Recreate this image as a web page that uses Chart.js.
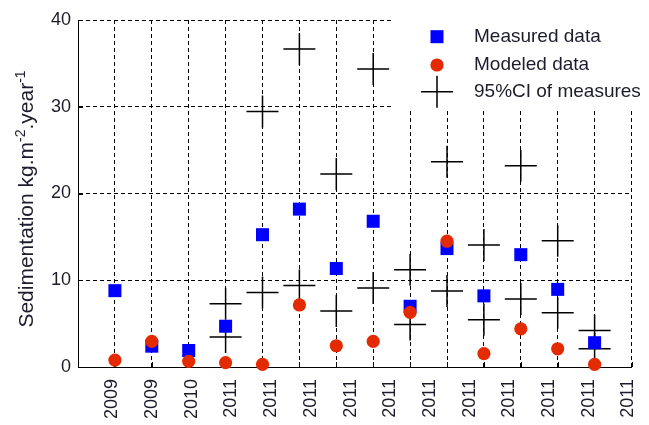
<!DOCTYPE html>
<html>
<head>
<meta charset="utf-8">
<script src="https://cdn.jsdelivr.net/npm/chart.js@4.4.1/dist/chart.umd.min.js"></script>
<style>
html,body{margin:0;padding:0;background:#ffffff;}
#wrap{width:649px;height:425px;position:relative;}
</style>
</head>
<body>
<div id="wrap"><canvas id="c" width="649" height="425"></canvas></div>
<script>
// ---- data ----
const yearLabels = ['2009','2009','2010','2011','2011','2011','2011','2011','2011','2011','2011','2011','2011','2011'];
const sampleIndex = [1,2,3,4,5,6,7,8,9,10,11,12,13,14];
const measured = [8.8, 2.4, 1.9, 4.7, 15.25, 18.2, 11.35, 16.8, 7.0, 13.65, 8.2, 12.95, 8.95, 2.8];
const modeled  = [0.8, 2.95, 0.65, 0.5, 0.3, 7.15, 2.45, 2.95, 6.3, 14.5, 1.55, 4.4, 2.1, 0.3];
const ciLower  = [null, null, null, 3.45, 8.6, 9.4, 6.45, 9.1, 4.9, 8.75, 5.45, 7.85, 6.25, 2.1];
const ciUpper  = [null, null, null, 7.3, 29.45, 36.65, 22.25, 34.35, 11.2, 23.65, 14.05, 23.2, 14.55, 4.2];
const yTicks = [0, 10, 20, 30, 40];
const seriesNames = ['Measured data', 'Modeled data', '95%CI of measures'];
const yTitleParts = [['Sedimentation kg.m', false], ['-2', true], ['.year', false], ['-1', true]];

// ---- styling ----
const FONT = '"Liberation Sans", Arial, sans-serif';
const TXT = '#1c1c2c';
const BLUE = '#0000ff';
const RED = '#e42a00';

const pts = (arr) => sampleIndex.map((x, i) => ({x: x, y: arr[i]})).filter(p => p.y !== null);

// label anchor positions along the x axis (evenly spread, as in the reference)
const labelPos = yearLabels.map((_, i) => 0.934 + 1.0754 * i);

const overlay = {
  id: 'overlay',
  beforeDatasetsDraw(chart) {
    const ctx = chart.ctx, a = chart.chartArea;
    // legend background (opaque white, no border)
    ctx.save();
    ctx.fillStyle = '#ffffff';
    ctx.fillRect(392, 0, chart.width - 392, 110);
    // inward tick marks on both axes
    ctx.strokeStyle = '#000';
    ctx.lineWidth = 1;
    const xs = chart.scales.x, ys = chart.scales.y;
    ctx.beginPath();
    xs.ticks.forEach(t => {
      const px = Math.round(xs.getPixelForValue(t.value)) + 0.5;
      ctx.moveTo(px, Math.round(a.bottom)); ctx.lineTo(px, Math.round(a.bottom) - 5);
    });
    ys.ticks.forEach(t => {
      const py = Math.round(ys.getPixelForValue(t.value)) + 0.5;
      if (t.value === 40) return;
      ctx.moveTo(Math.round(a.left), py); ctx.lineTo(Math.round(a.left) + 5, py);
    });
    ctx.stroke();
    ctx.restore();
  },
  afterDraw(chart) {
    const ctx = chart.ctx;
    const mx = 437, tx = 474, rows = [36.7, 65, 91.7];
    const ds = chart.data.datasets;
    ctx.save();
    // legend
    rows.forEach((ry, i) => {
      const d = ds[i];
      ctx.fillStyle = d.backgroundColor;
      ctx.strokeStyle = d.borderColor;
      ctx.lineWidth = d.borderWidth;
      Chart.helpers.drawPoint(ctx, {
        pointStyle: d.pointStyle, radius: d.pointRadius, borderWidth: d.borderWidth, rotation: 0
      }, mx, ry);
      ctx.fillStyle = TXT;
      ctx.font = '19px ' + FONT;
      ctx.textBaseline = 'middle';
      ctx.textAlign = 'left';
      ctx.fillText(d.label, tx, ry);
    });
    ctx.restore();
    // y axis title with superscripts
    ctx.save();
    ctx.translate(33, 199);
    ctx.rotate(-Math.PI / 2);
    ctx.fillStyle = TXT;
    ctx.textBaseline = 'alphabetic';
    ctx.textAlign = 'left';
    const bigF = '21px ' + FONT, supF = '14px ' + FONT;
    let total = 0;
    yTitleParts.forEach(([t, sup]) => { ctx.font = sup ? supF : bigF; total += ctx.measureText(t).width; });
    let x = -total / 2;
    yTitleParts.forEach(([t, sup]) => {
      ctx.font = sup ? supF : bigF;
      ctx.fillText(t, x, sup ? -8 : 0);
      x += ctx.measureText(t).width;
    });
    ctx.restore();
  }
};

new Chart(document.getElementById('c'), {
  type: 'scatter',
  data: {
    datasets: [
      { label: seriesNames[0], data: pts(measured), pointStyle: 'rect', pointRadius: 9.2,
        backgroundColor: BLUE, borderColor: BLUE, borderWidth: 0, order: 1, clip: false },
      { label: seriesNames[1], data: pts(modeled), pointStyle: 'circle', pointRadius: 6.6,
        backgroundColor: RED, borderColor: RED, borderWidth: 0, order: 0, clip: false },
      { label: seriesNames[2], data: pts(ciLower).concat(pts(ciUpper)), pointStyle: 'cross', pointRadius: 16,
        backgroundColor: '#000', borderColor: '#000', borderWidth: 1.5, order: 2, clip: false }
    ]
  },
  options: {
    responsive: false,
    animation: false,
    events: [],
    layout: { padding: { left: 0, top: 20, right: 4, bottom: 0 } },
    plugins: { legend: { display: false }, tooltip: { enabled: false } },
    scales: {
      x: {
        type: 'linear', min: 0, max: 15, position: 'bottom', weight: 0,
        ticks: { display: false, stepSize: 1 },
        grid: { color: '#000', lineWidth: 1, drawTicks: false },
        border: { display: true, color: '#000', width: 1, dash: [4, 3] },
        afterFit(s) { s.height = 0; s.paddingLeft = 0; s.paddingRight = 0; }
      },
      x2: {
        type: 'linear', min: 0, max: 15, position: 'bottom', weight: 1,
        afterBuildTicks(s) { s.ticks = labelPos.map(v => ({ value: v })); },
        ticks: {
          autoSkip: false, maxRotation: 90, minRotation: 90, padding: 12,
          color: TXT, font: { family: FONT, size: 18 },
          callback: (v, i) => yearLabels[i]
        },
        grid: { display: false, drawTicks: false },
        border: { display: false },
        afterFit(s) { s.height = 58; s.paddingLeft = 0; s.paddingRight = 0; }
      },
      y: {
        type: 'linear', min: 0, max: 40,
        afterBuildTicks(s) { s.ticks = yTicks.map(v => ({ value: v })); },
        ticks: { color: TXT, font: { family: FONT, size: 18 }, padding: 7 },
        grid: { color: '#000', lineWidth: 1, drawTicks: false },
        border: { display: true, color: '#000', width: 1, dash: [4, 3] },
        afterFit(s) { s.width = 78; }
      }
    }
  },
  plugins: [overlay]
});
</script>
</body>
</html>
